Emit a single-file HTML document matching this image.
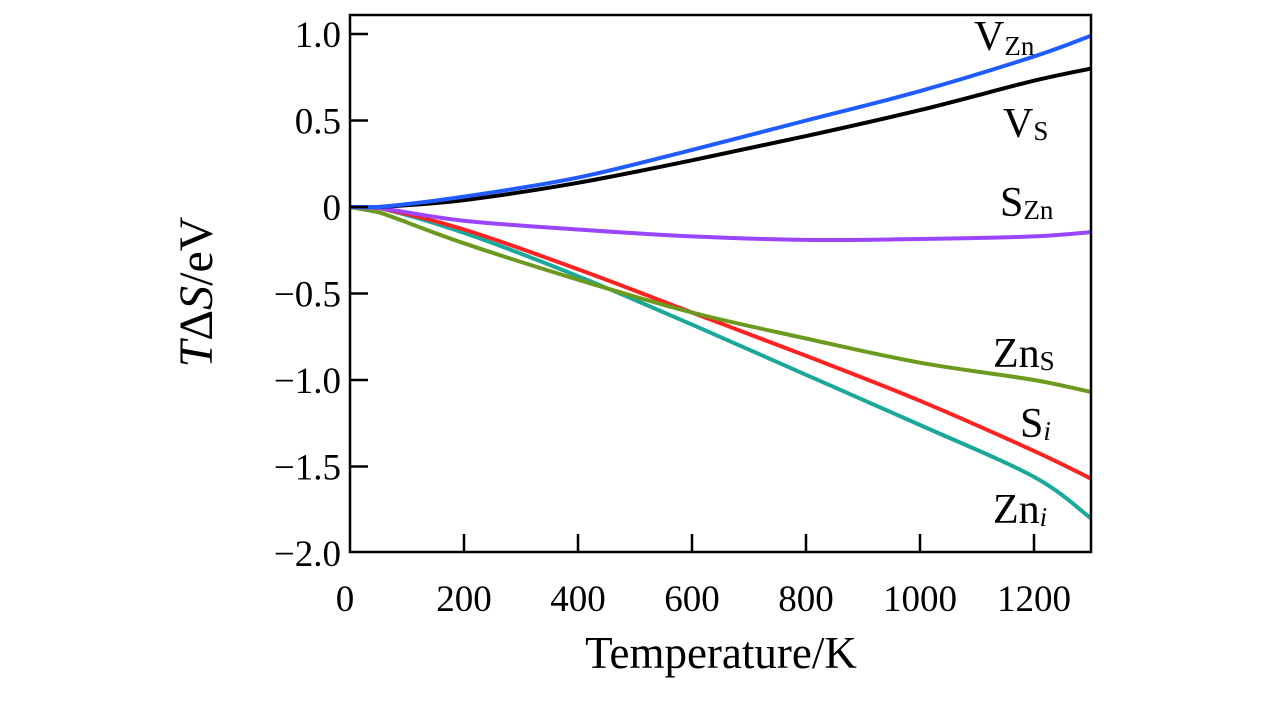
<!DOCTYPE html>
<html><head><meta charset="utf-8"><style>
html,body{margin:0;padding:0;background:#fff;}
svg text{font-family:"Liberation Serif",serif;}
</style></head><body>
<svg id="chart" width="1283" height="710" viewBox="0 0 1283 710" xmlns="http://www.w3.org/2000/svg">
<g id="series"></g>
<rect x="350" y="15" width="741" height="537" fill="none" stroke="#000" stroke-width="2.5"/>
<g id="ticks"></g>
<text x="721" y="668" font-size="45" text-anchor="middle">Temperature/K</text>
<text transform="translate(212,292) rotate(-90)" font-size="48" text-anchor="middle"><tspan font-style="italic">T</tspan>Δ<tspan font-style="italic">S</tspan>/eV</text>
<g font-size="42">
<text x="974" y="50">V<tspan font-size="27" dy="5">Zn</tspan></text>
<text x="1003" y="137">V<tspan font-size="27" dy="3">S</tspan></text>
<text x="1000" y="216">S<tspan font-size="27" dy="3">Zn</tspan></text>
<text x="993" y="367">Zn<tspan font-size="27" dy="3">S</tspan></text>
<text x="1020" y="437">S<tspan font-size="27" font-style="italic" dy="3">i</tspan></text>
<text x="993" y="523">Zn<tspan font-size="27" font-style="italic" dy="3">i</tspan></text>
</g>
</svg>
<script>
const temps = [0, 50, 200, 400, 600, 800, 1000, 1200, 1300];
const vZn = [0, 0, 0.06, 0.17, 0.33, 0.50, 0.67, 0.87, 0.99];
const vS = [0, 0, 0.04, 0.14, 0.27, 0.41, 0.56, 0.73, 0.80];
const sZn = [0, -0.005, -0.08, -0.13, -0.17, -0.19, -0.185, -0.17, -0.145];
const znS = [0, -0.03, -0.21, -0.42, -0.61, -0.76, -0.90, -1.00, -1.07];
const sI = [0, -0.005, -0.13, -0.36, -0.61, -0.86, -1.12, -1.41, -1.57];
const znI = [0, -0.005, -0.15, -0.40, -0.68, -0.97, -1.26, -1.56, -1.80];
const xTicks = [0, 200, 400, 600, 800, 1000, 1200];
const yTicks = [1.0, 0.5, 0, -0.5, -1.0, -1.5, -2.0];
const yTickLabels = ["1.0", "0.5", "0", "\u22120.5", "\u22121.0", "\u22121.5", "\u22122.0"];

const NS = "http://www.w3.org/2000/svg";
function xs(t){ return 350 + t * 741 / 1300; }
function ys(v){ return 207 - v * 173; }
function smooth(pts){
  let d = "M" + pts[0][0].toFixed(1) + "," + pts[0][1].toFixed(1);
  for (let i = 0; i < pts.length - 1; i++) {
    const p0 = pts[Math.max(0, i - 1)], p1 = pts[i], p2 = pts[i + 1], p3 = pts[Math.min(pts.length - 1, i + 2)];
    if (i === 0) { d += "L" + p2[0].toFixed(1) + "," + p2[1].toFixed(1); continue; }
    const c1x = p1[0] + (p2[0] - p0[0]) / 6, c1y = p1[1] + (p2[1] - p0[1]) / 6;
    const c2x = p2[0] - (p3[0] - p1[0]) / 6, c2y = p2[1] - (p3[1] - p1[1]) / 6;
    d += "C" + c1x.toFixed(1) + "," + c1y.toFixed(1) + " " + c2x.toFixed(1) + "," + c2y.toFixed(1) + " " + p2[0].toFixed(1) + "," + p2[1].toFixed(1);
  }
  return d;
}

const seriesList = [
  {name:"series-zni", vals:znI, color:"#1aa89a"},
  {name:"series-si", vals:sI, color:"#ff2222"},
  {name:"series-zns", vals:znS, color:"#6b9a1f"},
  {name:"series-szn", vals:sZn, color:"#9b45ff"},
  {name:"series-vs", vals:vS, color:"#000000"},
  {name:"series-vzn", vals:vZn, color:"#1e5cff"}
];
const sg = document.getElementById("series");
seriesList.forEach(s => {
  const p = document.createElementNS(NS, "path");
  const pts = temps.map((t, i) => [xs(t), ys(s.vals[i])]);
  p.setAttribute("d", smooth(pts));
  p.setAttribute("fill", "none");
  p.setAttribute("stroke", s.color);
  p.setAttribute("stroke-width", "4");
  p.setAttribute("stroke-linejoin", "round");
  
  
  sg.appendChild(p);
});

const tg = document.getElementById("ticks");
xTicks.forEach(t => {
  if (t > 0) {
    const l = document.createElementNS(NS, "line");
    l.setAttribute("x1", xs(t)); l.setAttribute("x2", xs(t));
    l.setAttribute("y1", 552); l.setAttribute("y2", 534);
    l.setAttribute("stroke", "#000"); l.setAttribute("stroke-width", "2.5");
    
    
    tg.appendChild(l);
  }
  const tx = document.createElementNS(NS, "text");
  tx.setAttribute("x", t === 0 ? 345 : xs(t));
  tx.setAttribute("y", 611);
  tx.setAttribute("font-size", "37");
  tx.setAttribute("text-anchor", "middle");
  tx.textContent = String(t);
  
  
  tg.appendChild(tx);
});
yTicks.forEach((v, i) => {
  const y = ys(v);
  if (v > -2) {
    const l = document.createElementNS(NS, "line");
    l.setAttribute("x1", 350); l.setAttribute("x2", 368);
    l.setAttribute("y1", y); l.setAttribute("y2", y);
    l.setAttribute("stroke", "#000"); l.setAttribute("stroke-width", "2.5");
    
    
    tg.appendChild(l);
  }
  const tx = document.createElementNS(NS, "text");
  tx.setAttribute("x", 341);
  tx.setAttribute("y", y + 13);
  tx.setAttribute("font-size", "37");
  tx.setAttribute("text-anchor", "end");
  tx.textContent = yTickLabels[i];
  
  
  tg.appendChild(tx);
});
</script>
</body></html>
